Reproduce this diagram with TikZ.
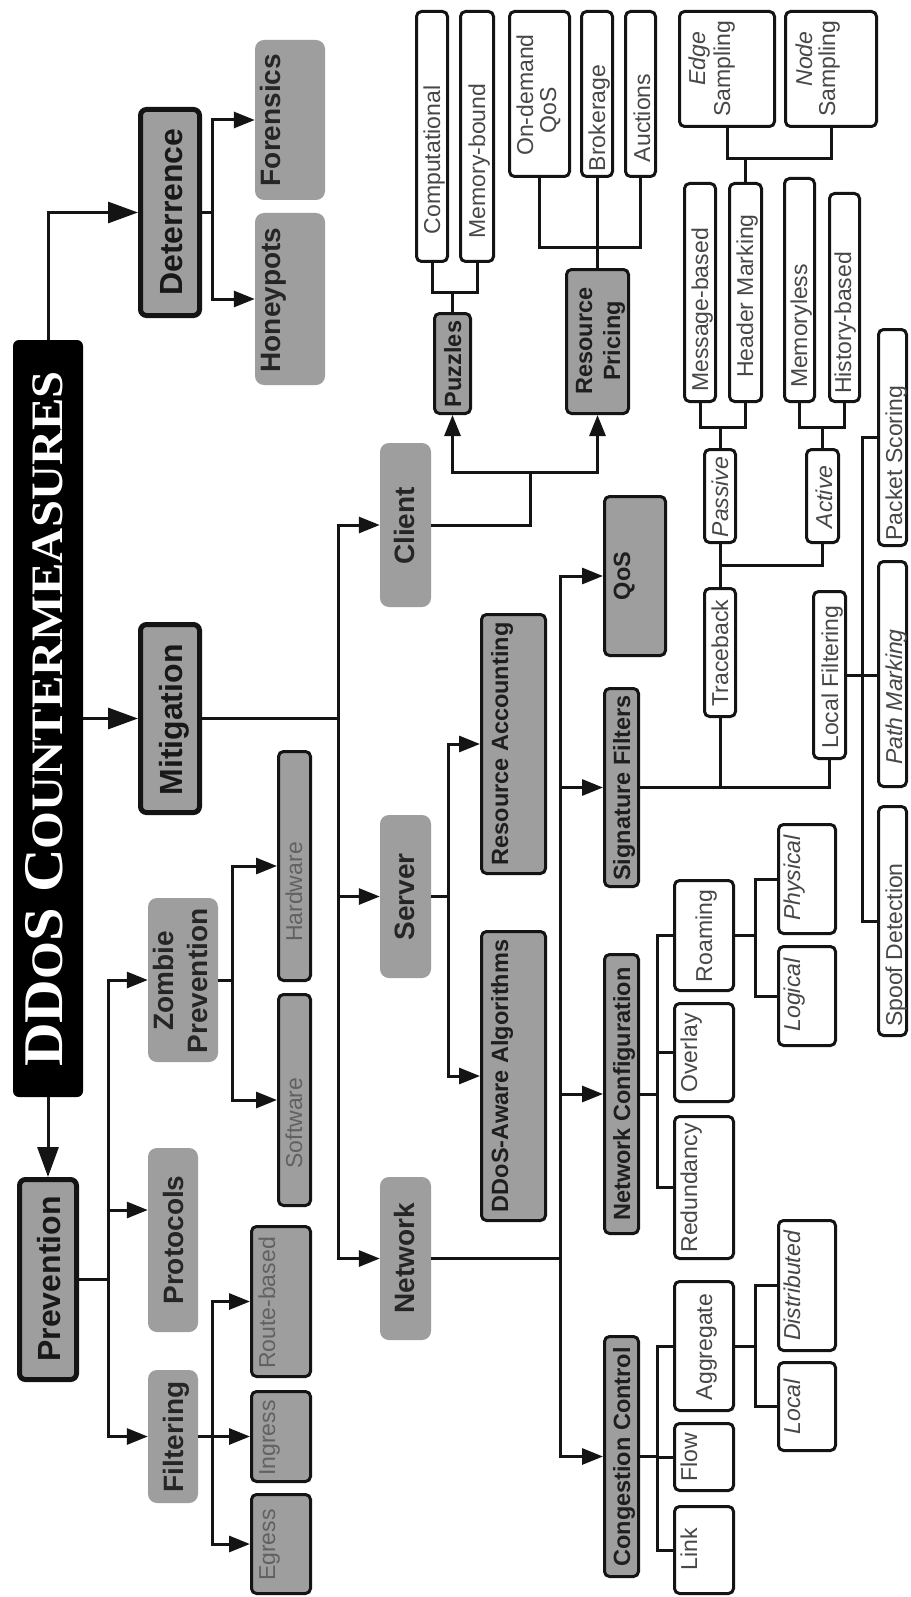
\documentclass[tikz,border=0pt]{standalone}
\usepackage{fontspec}
\usepackage{graphicx}
\setmainfont{Liberation Sans}
\newfontfamily\titlefont{Liberation Serif}
\usetikzlibrary{arrows.meta,calc}
\definecolor{boxgray}{RGB}{158,158,158}
\definecolor{linecol}{RGB}{20,20,20}
% box: [linewidth]{name}{style}{x1}{y1}{x2}{y2} in image pixels (y down)
\newcommand\mkbox[7][3]{%
  \pgfmathsetmacro\bxcx{(#4+#6)/2}%
  \pgfmathsetmacro\bxcy{(#5+#7)/2}%
  \pgfmathsetmacro\bxw{#7-#5-#1}%
  \pgfmathsetmacro\bxh{#6-#4-#1}%
  \node[#3, rotate=90, minimum width=\bxw pt, minimum height=\bxh pt] (#2) at (\bxcx,\bxcy) {};%
}
% label: {style}{name}{baseline x}{center y}{text}
\newcommand\mklbl[5]{\node[#1, rotate=90, anchor=base, inner sep=0pt] (#2) at (#3,#4) {#5};}
\begin{document}
\begin{tikzpicture}[x=1pt, y=-1pt,
  bxone/.style={fill=boxgray, draw=linecol, line width=5pt, rounded corners=6pt, inner sep=0pt},
  bxtwo/.style={fill=boxgray, rounded corners=9pt, inner sep=0pt},
  bxthree/.style={fill=boxgray, draw=linecol, line width=3pt, rounded corners=5pt, inner sep=0pt},
  bxleaf/.style={fill=white, draw=linecol, line width=3pt, rounded corners=5pt, inner sep=0pt},
  bxtitle/.style={fill=black, rounded corners=6pt, inner sep=0pt},
  tone/.style={font=\bfseries\fontsize{32}{38}\selectfont, text=black!90},
  ttwo/.style={font=\bfseries\fontsize{28}{34}\selectfont, text=black!85},
  tthree/.style={font=\bfseries\fontsize{23.5}{28}\selectfont, text=black!88},
  tgray/.style={font=\fontsize{23}{28}\selectfont, text=black!62},
  tleaf/.style={font=\fontsize{23}{28}\selectfont, text=black!72},
  tleafit/.style={font=\itshape\fontsize{23}{28}\selectfont, text=black!72},
  ttitle/.style={font=\titlefont\bfseries, text=white},
  conn/.style={draw=linecol, line width=3pt},
  arr/.style={conn, -{Triangle[length=21pt,width=16pt]}},
  bigarr/.style={conn, -{Triangle[length=30pt,width=21pt]}}]

\fill[white] (0,0) rectangle (910,1597);
\useasboundingbox (0,0) rectangle (910,1597);

% ---------- title ----------
\mkbox[0]{title}{bxtitle}{13}{340}{83}{1097}
\mklbl{ttitle}{title-t}{62}{719}{\scalebox{1.08}[1]{{\fontsize{56}{60}\selectfont DD}{\fontsize{45}{50}\selectfont O}{\fontsize{56}{60}\selectfont S C}{\fontsize{45}{50}\selectfont OUNTERMEASURES}}}

% ---------- level 1 ----------
\mkbox[5]{det}{bxone}{138}{107}{202}{318}
\mklbl{tone}{det-t}{182}{212}{Deterrence}
\mkbox[5]{mit}{bxone}{138}{622}{202}{815}
\mklbl{tone}{mit-t}{182}{720}{Mitigation}
\mkbox[5]{prev}{bxone}{17}{1177}{79}{1382}
\mklbl{tone}{prev-t}{60}{1279}{Prevention}

% ---------- level 2 ----------
\mkbox[0]{for}{bxtwo}{255}{40}{325}{200}
\mklbl{ttwo}{for-t}{280}{120}{Forensics}
\mkbox[0]{hon}{bxtwo}{255}{213}{325}{385}
\mklbl{ttwo}{hon-t}{280}{300}{Honeypots}
\mkbox[0]{cli}{bxtwo}{380}{443}{431}{607}
\mklbl{ttwo}{cli-t}{414}{526}{Client}
\mkbox[0]{srv}{bxtwo}{380}{815}{431}{978}
\mklbl{ttwo}{srv-t}{414}{897}{Server}
\mkbox[0]{net}{bxtwo}{380}{1177}{431}{1340}
\mklbl{ttwo}{net-t}{414}{1258}{Network}
\mkbox[0]{zom}{bxtwo}{148}{898}{218}{1062}
\mklbl{ttwo}{zom-t1}{173}{981}{Zombie}
\mklbl{ttwo}{zom-t2}{207}{981}{Prevention}
\mkbox[0]{pro}{bxtwo}{148}{1148}{198}{1332}
\mklbl{ttwo}{pro-t}{183}{1240}{Protocols}
\mkbox[0]{fil}{bxtwo}{148}{1370}{198}{1503}
\mklbl{ttwo}{fil-t}{183}{1437}{Filtering}

% ---------- level 3 (mitigation) ----------
\mkbox{puz}{bxthree}{433}{312}{472}{415}
\mklbl{tthree}{puz-t}{461}{364}{Puzzles}
\mkbox{rp}{bxthree}{565}{268}{630}{415}
\mklbl{tthree}{rp-t1}{592}{341}{Resource}
\mklbl{tthree}{rp-t2}{620}{341}{Pricing}
\mkbox{ra}{bxthree}{480}{613}{547}{875}
\mklbl{tthree}{ra-t}{508}{744}{Resource Accounting}
\mkbox{dda}{bxthree}{480}{930}{547}{1222}
\mklbl{tthree}{dda-t}{508}{1076}{DDoS-Aware Algorithms}
\mkbox{qos}{bxthree}{603}{495}{667}{657}
\mklbl{tthree}{qos-t}{630}{576}{QoS}
\mkbox{sig}{bxthree}{603}{687}{640}{888}
\mklbl{tthree}{sig-t}{630}{788}{Signature Filters}
\mkbox{ncf}{bxthree}{603}{953}{640}{1235}
\mklbl{tthree}{ncf-t}{630}{1094}{Network Configuration}
\mkbox{cc}{bxthree}{603}{1335}{640}{1578}
\mklbl{tthree}{cc-t}{630}{1457}{Congestion Control}

% ---------- level 3 (prevention) ----------
\mkbox{hw}{bxthree}{277}{750}{312}{982}
\mklbl{tgray}{hw-t}{302}{892}{Hardware}
\mkbox{sw}{bxthree}{277}{993}{312}{1207}
\mklbl{tgray}{sw-t}{302}{1123}{Software}
\mkbox{rb}{bxthree}{250}{1225}{312}{1378}
\mklbl{tgray}{rb-t}{275}{1303}{Route-based}
\mkbox{ing}{bxthree}{250}{1390}{312}{1483}
\mklbl{tgray}{ing-t}{275}{1438}{Ingress}
\mkbox{egr}{bxthree}{250}{1493}{312}{1595}
\mklbl{tgray}{egr-t}{275}{1545}{Egress}

% ---------- leaves ----------
\mkbox{comp}{bxleaf}{415}{10}{449}{263}
\mklbl{tleaf}{comp-t}{440}{160}{Computational}
\mkbox{memb}{bxleaf}{459}{10}{495}{263}
\mklbl{tleaf}{memb-t}{485}{161}{Memory-bound}
\mkbox{odq}{bxleaf}{508}{10}{571}{178}
\mklbl{tleaf}{odq-t1}{533}{95}{On-demand}
\mklbl{tleaf}{odq-t2}{556}{110}{QoS}
\mkbox{brk}{bxleaf}{580}{10}{614}{178}
\mklbl{tleaf}{brk-t}{605}{118}{Brokerage}
\mkbox{auc}{bxleaf}{624}{10}{657}{178}
\mklbl{tleaf}{auc-t}{650}{118}{Auctions}
\mkbox{edg}{bxleaf}{678}{10}{776}{128}
\mklbl{tleafit}{edg-t1}{705}{59}{Edge}
\mklbl{tleaf}{edg-t2}{730}{69}{Sampling}
\mkbox{nds}{bxleaf}{784}{10}{878}{128}
\mklbl{tleafit}{nds-t1}{812}{59}{Node}
\mklbl{tleaf}{nds-t2}{835}{69}{Sampling}
\mkbox{msg}{bxleaf}{683}{182}{717}{403}
\mklbl{tleaf}{msg-t}{708}{310}{Message-based}
\mkbox{hdr}{bxleaf}{728}{182}{763}{403}
\mklbl{tleaf}{hdr-t}{753}{296}{Header Marking}
\mkbox{mml}{bxleaf}{783}{177}{816}{403}
\mklbl{tleaf}{mml-t}{807}{326}{Memoryless}
\mkbox{hst}{bxleaf}{828}{192}{861}{403}
\mklbl{tleaf}{hst-t}{851}{323}{History-based}
\mkbox{pas}{bxleaf}{703}{448}{737}{544}
\mklbl{tleafit}{pas-t}{728}{497}{Passive}
\mkbox{act}{bxleaf}{805}{448}{840}{544}
\mklbl{tleafit}{act-t}{832}{497}{Active}
\mkbox{tb}{bxleaf}{703}{587}{737}{718}
\mklbl{tleaf}{tb-t}{728}{653}{Traceback}
\mkbox{lf}{bxleaf}{812}{590}{847}{760}
\mklbl{tleaf}{lf-t}{838}{677}{Local Filtering}
\mkbox{pks}{bxleaf}{877}{328}{908}{547}
\mklbl{tleaf}{pks-t}{902}{463}{Packet Scoring}
\mkbox{pm}{bxleaf}{877}{560}{908}{788}
\mklbl{tleafit}{pm-t}{902}{697}{Path Marking}
\mkbox{spd}{bxleaf}{877}{805}{908}{1037}
\mklbl{tleaf}{spd-t}{902}{945}{Spoof Detection}
\mkbox{roa}{bxleaf}{673}{879}{735}{992}
\mklbl{tleaf}{roa-t}{712}{936}{Roaming}
\mkbox{ovl}{bxleaf}{673}{1002}{735}{1103}
\mklbl{tleaf}{ovl-t}{697}{1053}{Overlay}
\mkbox{red}{bxleaf}{673}{1115}{735}{1260}
\mklbl{tleaf}{red-t}{697}{1188}{Redundancy}
\mkbox{phy}{bxleaf}{777}{823}{837}{935}
\mklbl{tleafit}{phy-t}{800}{878}{Physical}
\mkbox{lgc}{bxleaf}{777}{945}{837}{1047}
\mklbl{tleafit}{lgc-t}{800}{995}{Logical}
\mkbox{agg}{bxleaf}{673}{1280}{735}{1412}
\mklbl{tleaf}{agg-t}{712}{1347}{Aggregate}
\mkbox{flo}{bxleaf}{673}{1422}{735}{1492}
\mklbl{tleaf}{flo-t}{697}{1457}{Flow}
\mkbox{lnk}{bxleaf}{673}{1505}{735}{1595}
\mklbl{tleaf}{lnk-t}{697}{1549}{Link}
\mkbox{dst}{bxleaf}{777}{1219}{837}{1352}
\mklbl{tleafit}{dst-t}{800}{1286}{Distributed}
\mkbox{loc}{bxleaf}{777}{1361}{837}{1452}
\mklbl{tleafit}{loc-t}{800}{1407}{Local}

% ---------- junctions ----------
\coordinate (jD) at (212,212.5);
\coordinate (jM) at (338,718.5);
\coordinate (jC) at (530,472);
\coordinate (jPz) at (452.5,292);
\coordinate (jRP) at (597.5,248);
\coordinate (jS) at (448,896.5);
\coordinate (jN) at (560,1258.5);
\coordinate (jTB) at (720,565);
\coordinate (jPa) at (720,427);
\coordinate (jAc) at (822.5,427);
\coordinate (jH) at (745.5,159);
\coordinate (jLF) at (862,675);
\coordinate (jNC) at (657,1094);
\coordinate (jR) at (755,935.5);
\coordinate (jCC) at (657,1456.5);
\coordinate (jA) at (755,1346);
\coordinate (jP) at (108,1279.5);
\coordinate (jZ) at (232,980);
\coordinate (jF) at (212,1436.5);

% ---------- connectors ----------
\draw[bigarr] (title.east) |- (det.north);
\draw[bigarr] (title.south) -- (mit.north);
\draw[bigarr] (title.west) -- (prev.east);

\draw[conn] (det.south) -- (jD);
\draw[arr] (jD) |- (for.north);
\draw[arr] (jD) |- (hon.north);

\draw[conn] (mit.south) -- (jM);
\draw[arr] (jM) |- (cli.north);
\draw[arr] (jM) |- (srv.north);
\draw[arr] (jM) |- (net.north);

\draw[conn] (cli.south) -| (jC);
\draw[arr] (jC) -| (puz.west);
\draw[arr] (jC) -| (rp.west);

\draw[conn] (puz.east) -- (jPz);
\draw[conn] (comp.west) |- (jPz) -| (memb.west);
\draw[conn] (rp.east) -- (jRP);
\draw[conn] (odq.west) |- (jRP) -| (auc.west);
\draw[conn] (brk.west) -- (brk.west |- jRP);

\draw[conn] (srv.south) -- (jS);
\draw[arr] (jS) |- (ra.north);
\draw[arr] (jS) |- (dda.north);

\draw[conn] (net.south) -- (jN);
\draw[arr] (jN) |- (qos.north);
\draw[arr] (jN) |- (sig.north);
\draw[arr] (jN) |- (ncf.north);
\draw[arr] (jN) |- (cc.north);

\draw[conn] (sig.south) -| (lf.west);
\draw[conn] (tb.west) -- (tb.west |- sig.south);
\draw[conn] (tb.east) -- (pas.west);
\draw[conn] (act.west) |- (jTB);
\draw[conn] (pas.east) -- (jPa);
\draw[conn] (msg.west) |- (jPa) -| (hdr.west);
\draw[conn] (act.east) -- (jAc);
\draw[conn] (mml.west) |- (jAc) -| (hst.west);
\draw[conn] (hdr.east) -- (jH);
\draw[conn] (edg.west) |- (jH) -| (nds.west);

\draw[conn] (lf.south) -- (lf.south -| pm.north);
\draw[conn] (jLF) |- (pks.north);
\draw[conn] (jLF) |- (spd.north);

\draw[conn] (ncf.south) -- (jNC);
\draw[conn] (jNC) |- (roa.north);
\draw[conn] (jNC) |- (ovl.north);
\draw[conn] (jNC) |- (red.north);
\draw[conn] (roa.south) -- (jR);
\draw[conn] (jR) |- (phy.north);
\draw[conn] (jR) |- (lgc.north);

\draw[conn] (cc.south) -- (jCC);
\draw[conn] (jCC) |- (agg.north);
\draw[conn] (jCC) |- (flo.north);
\draw[conn] (jCC) |- (lnk.north);
\draw[conn] (agg.south) -- (jA);
\draw[conn] (jA) |- (dst.north);
\draw[conn] (jA) |- (loc.north);

\draw[conn] (prev.south) -- (jP);
\draw[arr] (jP) |- (zom.north);
\draw[arr] (jP) |- ([yshift=30pt]pro.north);
\draw[arr] (jP) |- (fil.north);

\draw[conn] (zom.south) -- (jZ);
\draw[arr] (jZ) |- (hw.north);
\draw[arr] (jZ) |- (sw.north);

\draw[conn] (fil.south) -- (jF);
\draw[arr] (jF) |- (rb.north);
\draw[arr] (jF) |- (ing.north);
\draw[arr] (jF) |- (egr.north);
\end{tikzpicture}
\end{document}
